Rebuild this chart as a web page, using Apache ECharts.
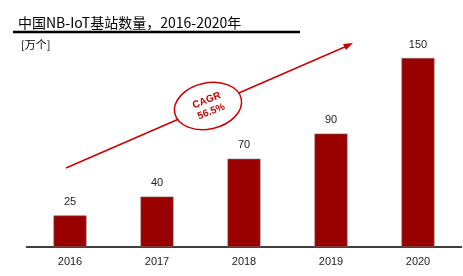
<!DOCTYPE html>
<html><head><meta charset="utf-8">
<script src="https://cdn.jsdelivr.net/npm/echarts@6/dist/echarts.min.js"></script>
<style>html,body{margin:0;padding:0;background:#fff}#c{width:463px;height:276px}</style>
</head><body><div id="c"></div>
<script>
const categories = ['2016','2017','2018','2019','2020'];
const values = [25, 40, 70, 90, 150];
const titleText = '中国NB-IoT基站数量，2016-2020年';
const unitText = '[万个]';
const cagrText = 'CAGR\n56.5%';

const chart = echarts.init(document.getElementById('c'));
chart.setOption({
  animation: false,
  title: {
    text: titleText, left: 13, top: 11,
    textStyle: {fontSize: 14, fontWeight: 'normal', color: '#000', fontFamily: 'Noto Sans CJK SC'}
  },
  grid: {left: 26.5, right: 1.5, top: 58, bottom: 29, containLabel: false},
  xAxis: {
    type: 'category', data: categories,
    axisLine: {lineStyle: {color: '#000', width: 1.5}},
    axisTick: {show: false},
    axisLabel: {color: '#222', fontSize: 11, margin: 9, fontFamily: 'Liberation Sans'}
  },
  yAxis: {type: 'value', min: 0, max: 150, show: false},
  series: [{
    type: 'bar', data: values, barWidth: 33,
    itemStyle: {color: '#990000', borderColor: '#8a6a6a', borderWidth: 0.6},
    label: {show: true, position: 'top', distance: 8, color: '#222', fontSize: 11, fontFamily: 'Liberation Sans'}
  }],
  graphic: [
    {type: 'line', shape: {x1: 13, y1: 32, x2: 300, y2: 32}, style: {stroke: '#000', lineWidth: 2.5}},
    {type: 'text', left: 21, top: 39, style: {text: unitText, fontSize: 11, fill: '#000', fontFamily: 'Noto Sans CJK SC'}},
    {type: 'line', shape: {x1: 66, y1: 168, x2: 347, y2: 46}, style: {stroke: '#cc0000', lineWidth: 1.5}},
    {type: 'polygon', shape: {points: [[353, 43], [343, 44], [346, 50]]}, style: {fill: '#cc0000'}},
    {type: 'ellipse', shape: {cx: 208, cy: 106, rx: 34, ry: 23}, rotation: 0.22, originX: 208, originY: 106,
      style: {fill: '#fff', stroke: '#cc0000', lineWidth: 1.5}},
    {type: 'text', x: 209, y: 106, rotation: 0.38, originX: 0, originY: 0,
      style: {text: cagrText, fontSize: 10, fontWeight: 'bold', fill: '#cc0000', align: 'center', verticalAlign: 'middle', lineHeight: 12, fontFamily: 'Liberation Sans'}}
  ]
});
</script></body></html>
